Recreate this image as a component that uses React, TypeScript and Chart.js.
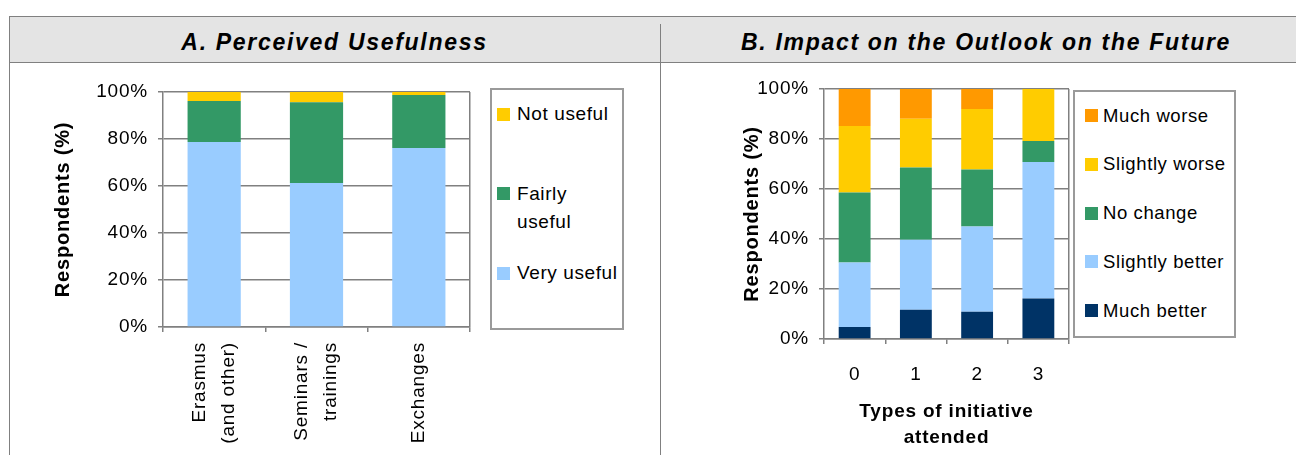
import React, { useEffect, useRef } from 'react';
import { Chart, registerables } from 'chart.js';

Chart.register(...registerables);

// ---------- data ----------
const usefulnessCategories: string[][] = [['Erasmus', '(and other)'], ['Seminars /', 'trainings'], ['Exchanges']];
const usefulnessSeriesNames = ['Very useful', 'Fairly useful', 'Not useful'];
const veryUseful = [78.7, 61.3, 76.2];
const fairlyUseful = [17.5, 34.3, 22.5];
const notUseful = [3.8, 4.4, 1.3];

const outlookCategories = ['0', '1', '2', '3'];
const outlookSeriesNames = ['Much better', 'Slightly better', 'No change', 'Slightly worse', 'Much worse'];
const muchBetter = [4.8, 11.7, 10.9, 16.2];
const slightlyBetter = [25.8, 28.0, 34.1, 54.6];
const noChange = [28.0, 28.9, 22.8, 8.4];
const slightlyWorse = [26.6, 19.5, 24.2, 20.8];
const muchWorse = [14.8, 11.9, 8.0, 0];

const percentTicks = [0, 20, 40, 60, 80, 100];

const titleA = 'A. Perceived Usefulness';
const titleB = 'B. Impact on the Outlook on the Future';
const yTitle = 'Respondents (%)';
const xTitleB = ['Types of initiative', 'attended'];

// ---------- styles ----------
const usefulnessColors = ['#99CCFF', '#339966', '#FFCC00'];
const outlookColors = ['#003366', '#99CCFF', '#339966', '#FFCC00', '#FF9900'];
const FONT = '"Liberation Sans", Arial, Helvetica, sans-serif';
const GRID = '#808080';
const LETTER = '0.8px';

const spacingPlugin = {
  id: 'letterSpacing',
  beforeUpdate(chart: any) { chart.ctx.letterSpacing = LETTER; },
  beforeLayout(chart: any) { chart.ctx.letterSpacing = LETTER; },
  beforeDraw(chart: any) { chart.ctx.letterSpacing = LETTER; },
};

const rotatedLabelsPlugin = {
  id: 'rotatedLabels',
  afterDraw(chart: any) {
    const xs = chart.scales.x;
    const ctx = chart.ctx;
    ctx.save();
    ctx.letterSpacing = LETTER;
    ctx.font = `19px ${FONT}`;
    ctx.fillStyle = '#000';
    ctx.textAlign = 'right';
    ctx.textBaseline = 'middle';
    usefulnessCategories.forEach((lines, i) => {
      const cx = xs.getPixelForValue(i);
      lines.forEach((line, j) => {
        ctx.save();
        ctx.translate(cx + (j - (lines.length - 1) / 2) * 29.5, xs.top + 15);
        ctx.rotate(-Math.PI / 2);
        ctx.fillText(line, 0, 0);
        ctx.restore();
      });
    });
    ctx.restore();
  },
};

function baseY(width: number, titlePadTop: number) {
  return {
    stacked: true,
    min: 0,
    max: 100,
    afterBuildTicks: (s: any) => { s.ticks = percentTicks.map((v) => ({ value: v })); },
    ticks: { callback: (v: any) => v + '%', font: { family: FONT, size: 19 }, color: '#000', padding: 10 },
    grid: { color: GRID, lineWidth: 1.5, tickLength: 5, tickColor: GRID, tickWidth: 1.5 },
    border: { display: true, color: GRID, width: 1.5 },
    title: {
      display: true,
      text: yTitle,
      font: { family: FONT, size: 20, weight: 'bold' },
      color: '#000',
      padding: { top: titlePadTop, bottom: 0 },
    },
    afterFit: (s: any) => { s.width = width; },
  };
}

function baseXGrid() {
  return {
    offset: true,
    drawOnChartArea: true,
    color: (c: any) => (c.type === 'scale' ? GRID : 'rgba(0,0,0,0)'),
    tickColor: GRID,
    tickLength: 5,
    lineWidth: 1.5,
    tickWidth: 1.5,
  };
}

function Legend(props: {
  names: string[]; colors: string[]; left: number; top: number; width: number; height: number;
  firstCenter: number; spacing: number; swatchLeft: number; textLeft: number; textWidth: number; fontSize: number;
}) {
  const { names, colors, left, top, width, height, firstCenter, spacing, swatchLeft, textLeft, textWidth, fontSize } = props;
  const order = names.map((n, i) => i).reverse();
  return (
    <div style={{ position: 'absolute', left, top, width, height, border: '2px solid #9a9a9a', boxSizing: 'border-box', background: '#fff', overflow: 'hidden' }}>
      {order.map((idx, k) => {
        const c = firstCenter + k * spacing - 2;
        return (
          <div key={idx} style={{ position: 'absolute', left: 0, top: c - 14, width: width - 4 }}>
            <div style={{ position: 'absolute', left: swatchLeft - 2, top: 7.5, width: 13, height: 13, background: colors[idx] }} />
            <div style={{ position: 'absolute', left: textLeft - 2, top: 0, width: textWidth, fontSize, lineHeight: '28px', letterSpacing: '0.6px', color: '#000', fontFamily: FONT }}>
              {names[idx]}
            </div>
          </div>
        );
      })}
    </div>
  );
}

export default function App() {
  const refA = useRef<HTMLCanvasElement>(null);
  const refB = useRef<HTMLCanvasElement>(null);

  useEffect(() => {
    const seriesA = [veryUseful, fairlyUseful, notUseful];
    const chartA = new Chart(refA.current as HTMLCanvasElement, {
      type: 'bar',
      data: {
        labels: usefulnessCategories.map((l) => l.join(' ')),
        datasets: seriesA.map((d, i) => ({
          label: usefulnessSeriesNames[i],
          data: d,
          backgroundColor: usefulnessColors[i],
          borderWidth: 0,
          barPercentage: 0.52,
          categoryPercentage: 1,
        })),
      },
      options: {
        responsive: false,
        animation: false,
        devicePixelRatio: 1,
        layout: { padding: { top: 29, right: 190, left: 0, bottom: 0 } },
        plugins: { legend: { display: false }, tooltip: { enabled: false } },
        scales: {
          x: {
            stacked: true,
            offset: true,
            grid: baseXGrid(),
            border: { display: true, color: GRID, width: 1.5 },
            ticks: { display: false },
            afterFit: (s: any) => { s.height = 128; },
          } as any,
          y: baseY(153, 41) as any,
        },
      },
      plugins: [spacingPlugin, rotatedLabelsPlugin],
    });

    const seriesB = [muchBetter, slightlyBetter, noChange, slightlyWorse, muchWorse];
    const chartB = new Chart(refB.current as HTMLCanvasElement, {
      type: 'bar',
      data: {
        labels: outlookCategories,
        datasets: seriesB.map((d, i) => ({
          label: outlookSeriesNames[i],
          data: d,
          backgroundColor: outlookColors[i],
          borderWidth: 0,
          barPercentage: 0.52,
          categoryPercentage: 1,
        })),
      },
      options: {
        responsive: false,
        animation: false,
        devicePixelRatio: 1,
        layout: { padding: { top: 26, right: 227, left: 0, bottom: 0 } },
        plugins: { legend: { display: false }, tooltip: { enabled: false } },
        scales: {
          x: {
            stacked: true,
            offset: true,
            grid: baseXGrid(),
            border: { display: true, color: GRID, width: 1.5 },
            ticks: { font: { family: FONT, size: 19 }, color: '#000', padding: 19.6, maxRotation: 0 },
            title: {
              display: true,
              text: xTitleB,
              font: { family: FONT, size: 19, weight: 'bold', lineHeight: 26 / 19 },
              color: '#000',
              padding: { top: 0, bottom: 4 },
            },
            afterFit: (s: any) => { s.height = 116; },
          } as any,
          y: baseY(163, 79) as any,
        },
      },
      plugins: [spacingPlugin],
    });

    return () => { chartA.destroy(); chartB.destroy(); };
  }, []);

  const line = '#808080';
  const titleStyle: React.CSSProperties = {
    position: 'absolute', top: 19, height: 46, lineHeight: '46px', textAlign: 'center',
    fontFamily: FONT, fontWeight: 'bold', fontStyle: 'italic', fontSize: 23, letterSpacing: '1.7px', color: '#000', whiteSpace: 'nowrap',
  };

  return (
    <div style={{ position: 'absolute', left: 0, top: 0, width: 1296, height: 455, overflow: 'hidden', background: '#fff' }}>
      <div style={{ position: 'absolute', left: 9, top: 16, width: 1300, height: 47, background: '#e4e4e4', borderTop: `1px solid ${line}`, borderBottom: `1px solid ${line}`, borderLeft: `1px solid ${line}`, boxSizing: 'border-box' }} />
      <div style={{ position: 'absolute', left: 9, top: 62, width: 1, height: 400, background: line }} />
      <div style={{ position: 'absolute', left: 660, top: 24, width: 1, height: 440, background: line }} />
      <div style={{ ...titleStyle, left: 9, width: 651 }}>{titleA}</div>
      <div style={{ ...titleStyle, left: 660, width: 652 }}>{titleB}</div>
      <canvas ref={refA} width={650} height={392} style={{ position: 'absolute', left: 10, top: 63 }} />
      <canvas ref={refB} width={635} height={392} style={{ position: 'absolute', left: 661, top: 63 }} />
      <Legend names={usefulnessSeriesNames} colors={usefulnessColors} left={490} top={88} width={134} height={242}
        firstCenter={26} spacing={79.5} swatchLeft={7} textLeft={27} textWidth={105} fontSize={19} />
      <Legend names={outlookSeriesNames} colors={outlookColors} left={1073} top={90} width={163} height={248}
        firstCenter={25.5} spacing={48.75} swatchLeft={12} textLeft={30} textWidth={131} fontSize={18.5} />
    </div>
  );
}
